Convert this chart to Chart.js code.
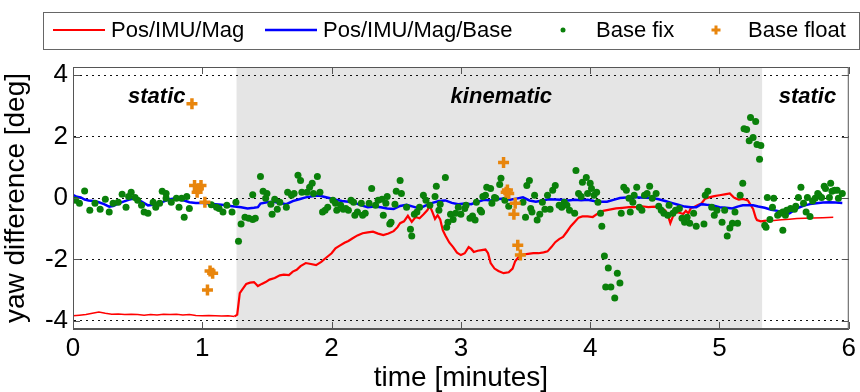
<!DOCTYPE html>
<html>
<head>
<meta charset="utf-8">
<script src="https://cdn.jsdelivr.net/npm/chart.js@4.4.1/dist/chart.umd.min.js"></script>
<style>
  html, body { margin: 0; padding: 0; background: #fff; }
  #wrap { width: 860px; height: 392px; }
</style>
</head>
<body>
<div id="wrap"><canvas id="yawChart" width="860" height="392"></canvas></div>
<script>
// axis ticks
const xTicks = [0, 1, 2, 3, 4, 5, 6];
const yTicks = [-4, -2, 0, 2, 4];

// phases of the test drive (minutes)
const phaseBounds = [0, 1.265, 5.33, 6];
const phaseNames = ['static', 'kinematic', 'static'];

// Pos/IMU/Mag (red)
const magTime = [0.00, 0.05, 0.10, 0.15, 0.20, 0.25, 0.30, 0.35, 0.40, 0.45, 0.50, 0.55, 0.60, 0.65, 0.70, 0.75,
  0.80, 0.85, 0.90, 0.95, 1.00, 1.05, 1.10, 1.15, 1.20, 1.25, 1.27, 1.29, 1.31, 1.34, 1.37, 1.40, 1.43, 1.46,
  1.49, 1.52, 1.56, 1.60, 1.63, 1.67, 1.70, 1.73, 1.76, 1.80, 1.84, 1.88, 1.92, 1.96, 2.00, 2.03, 2.06, 2.10,
  2.13, 2.16, 2.20, 2.24, 2.28, 2.32, 2.36, 2.40, 2.44, 2.48, 2.51, 2.53, 2.56, 2.59, 2.62, 2.65, 2.68, 2.71,
  2.74, 2.76, 2.78, 2.80, 2.82, 2.84, 2.86, 2.88, 2.91, 2.94, 2.97, 3.00, 3.03, 3.06, 3.08, 3.10, 3.13, 3.16,
  3.19, 3.21, 3.23, 3.26, 3.29, 3.33, 3.37, 3.40, 3.42, 3.45, 3.48, 3.52, 3.56, 3.60, 3.64, 3.67, 3.70, 3.73,
  3.76, 3.79, 3.82, 3.85, 3.88, 3.91, 3.94, 3.98, 4.02, 4.06, 4.10, 4.15, 4.20, 4.25, 4.30, 4.35, 4.40, 4.45,
  4.50, 4.55, 4.58, 4.60, 4.62, 4.64, 4.66, 4.69, 4.72, 4.74, 4.76, 4.78, 4.80, 4.83, 4.86, 4.89, 4.92, 4.96,
  5.00, 5.04, 5.08, 5.11, 5.13, 5.15, 5.18, 5.22, 5.26, 5.28, 5.29, 5.32, 5.36, 5.42, 5.48, 5.54, 5.60, 5.66,
  5.72, 5.80, 5.88, 5.95];
const magYaw = [-3.84, -3.82, -3.80, -3.76, -3.72, -3.76, -3.79, -3.78, -3.80, -3.79, -3.80, -3.82, -3.80, -3.81,
  -3.79, -3.80, -3.79, -3.81, -3.80, -3.83, -3.84, -3.83, -3.84, -3.85, -3.84, -3.86, -3.80, -3.10, -2.98, -2.80,
  -2.76, -2.74, -2.87, -2.80, -2.74, -2.66, -2.61, -2.52, -2.50, -2.51, -2.40, -2.34, -2.22, -2.12, -2.15, -2.19,
  -2.08, -1.94, -1.80, -1.64, -1.56, -1.46, -1.40, -1.32, -1.22, -1.15, -1.12, -1.10, -1.16, -1.21, -1.16, -1.08,
  -0.95, -0.82, -0.76, -0.58, -0.78, -0.62, -0.66, -0.54, -0.40, -0.26, -0.46, -0.68, -0.56, -0.70, -1.05,
  -1.22, -1.45, -1.60, -1.78, -1.86, -1.80, -1.60, -1.66, -1.76, -1.72, -1.70, -1.68, -1.80, -2.12, -2.30, -2.38,
  -2.45, -2.42, -2.30, -2.06, -1.90, -1.84, -1.82, -1.80, -1.80, -1.77, -1.74, -1.60, -1.44, -1.34, -1.27,
  -1.10, -0.92, -0.78, -0.64, -0.60, -0.60, -0.62, -0.50, -0.42, -0.38, -0.34, -0.32, -0.30, -0.30, -0.27,
  -0.30, -0.28, -0.34, -0.40, -0.55, -0.82, -0.60, -0.46, -0.48, -0.52, -0.42, -0.50, -0.32, -0.30, -0.24,
  -0.18, -0.02, 0.02, 0.06, 0.09, 0.12, 0.15, 0.02, -0.02, -0.05, -0.03, -0.08, -0.36, -0.64, -0.72, -0.76,
  -0.74, -0.73, -0.71, -0.69, -0.67, -0.66, -0.65, -0.64, -0.63];

// Pos/IMU/Mag/Base (blue)
const baseTime = [0.00, 0.03, 0.06, 0.09, 0.12, 0.16, 0.20, 0.24, 0.28, 0.31, 0.35, 0.39, 0.43, 0.47, 0.50, 0.54,
  0.58, 0.62, 0.66, 0.70, 0.74, 0.78, 0.82, 0.86, 0.90, 0.95, 1.00, 1.05, 1.10, 1.15, 1.20, 1.25, 1.30, 1.35,
  1.40, 1.43, 1.45, 1.50, 1.55, 1.60, 1.65, 1.70, 1.75, 1.80, 1.85, 1.90, 1.94, 1.98, 2.03, 2.08, 2.13, 2.18,
  2.23, 2.28, 2.33, 2.38, 2.43, 2.48, 2.53, 2.58, 2.63, 2.68, 2.73, 2.78, 2.83, 2.88, 2.93, 2.98, 3.03, 3.08,
  3.13, 3.18, 3.23, 3.28, 3.33, 3.38, 3.43, 3.48, 3.53, 3.58, 3.63, 3.68, 3.73, 3.78, 3.83, 3.88, 3.93, 3.98,
  4.03, 4.08, 4.13, 4.18, 4.23, 4.28, 4.33, 4.38, 4.43, 4.48, 4.53, 4.58, 4.63, 4.68, 4.73, 4.78, 4.82, 4.86,
  4.90, 4.95, 5.00, 5.05, 5.10, 5.14, 5.18, 5.22, 5.26, 5.30, 5.35, 5.40, 5.45, 5.50, 5.54, 5.58, 5.62, 5.66,
  5.70, 5.75, 5.80, 5.85, 5.90, 5.95];
const baseYaw = [0.10, 0.04, 0.02, -0.05, -0.08, -0.10, -0.14, -0.20, -0.28, -0.26, -0.18, -0.12, -0.06, -0.02,
  -0.04, -0.14, -0.24, -0.22, -0.16, -0.12, -0.05, -0.02, -0.06, -0.08, -0.14, -0.16, -0.16, -0.18, -0.20,
  -0.22, -0.25, -0.28, -0.30, -0.34, -0.32, -0.30, -0.18, -0.14, -0.12, -0.16, -0.20, -0.10, -0.04, 0.02,
  0.06, 0.08, 0.04, 0.00, -0.06, -0.10, -0.12, -0.16, -0.24, -0.30, -0.28, -0.30, -0.34, -0.36, -0.26, -0.22,
  -0.28, -0.34, -0.24, -0.16, -0.10, -0.08, -0.16, -0.20, -0.18, -0.20, -0.12, -0.06, -0.08, -0.04, -0.02,
  -0.06, -0.02, 0.02, -0.08, -0.12, -0.08, -0.04, -0.05, -0.06, -0.08, -0.06, -0.07, -0.06, -0.10, -0.12,
  -0.12, -0.06, 0.00, 0.02, 0.03, 0.02, 0.01, 0.00, -0.04, -0.10, -0.16, -0.22, -0.28, -0.30, -0.30, -0.20,
  -0.22, -0.24, -0.30, -0.32, -0.34, -0.28, -0.24, -0.24, -0.24, -0.28, -0.32, -0.38, -0.42, -0.48, -0.50,
  -0.40, -0.30, -0.24, -0.20, -0.17, -0.15, -0.14, -0.15, -0.16];

// Base fix (green dots)
const fixTime = [0.02, 0.09, 0.05, 0.13, 0.17, 0.21, 0.25, 0.28, 0.31, 0.35, 0.38, 0.41, 0.43, 0.45, 0.48, 0.50,
  0.53, 0.55, 0.58, 0.62, 0.64, 0.67, 0.69, 0.72, 0.72, 0.76, 0.80, 0.82, 0.84, 0.86, 0.88, 0.90, 1.07, 1.11,
  1.13, 1.16, 1.19, 1.23, 1.26,
  1.28, 1.30, 1.33, 1.36, 1.39, 1.41, 1.39, 1.45, 1.47, 1.50, 1.49, 1.53, 1.54, 1.56, 1.58, 1.60, 1.65, 1.66,
  1.69, 1.71, 1.74, 1.76, 1.77, 1.81, 1.83, 1.85, 1.86, 1.89, 1.91, 1.93, 1.95, 1.97, 2.01, 2.03, 2.04, 2.07,
  2.09, 2.11, 2.13, 2.15, 2.17, 2.18, 2.20, 2.23, 2.24, 2.26, 2.29, 2.31, 2.34, 2.36, 2.39, 2.40, 2.42, 2.43,
  2.45, 2.46, 2.49, 2.50, 2.53, 2.54, 2.58, 2.61, 2.62, 2.64, 2.66, 2.68, 2.71, 2.73, 2.76, 2.80, 2.81, 2.83,
  2.84, 2.88, 2.89, 2.90, 2.92, 2.94, 2.96, 2.98, 3.00, 3.03, 3.04, 3.07, 3.09, 3.11, 3.12, 3.15, 3.16, 3.17,
  3.19, 3.20, 3.23, 3.24, 3.26, 3.27, 3.30, 3.31, 3.34, 3.37, 3.48, 3.50, 3.51, 3.53, 3.54, 3.55, 3.57, 3.59,
  3.61, 3.63, 3.65, 3.67, 3.69, 3.71, 3.73, 3.76, 3.78, 3.80, 3.82, 3.84, 3.88, 3.89, 3.91, 3.93, 3.94, 3.97,
  3.98, 4.00, 4.01, 4.03, 4.05, 4.06, 4.08, 4.09, 4.11, 4.14, 4.12, 4.16, 4.21, 4.23, 4.19, 4.24, 4.26, 4.28,
  4.30, 4.31, 4.33, 4.34, 4.36, 4.38, 4.40, 4.42, 4.44, 4.46, 4.48, 4.51, 4.53, 4.55, 4.57, 4.60, 4.61, 4.64,
  4.66, 4.69, 4.71, 4.73, 4.75, 4.77, 4.80, 4.82, 4.88, 4.89, 4.91, 4.94, 4.96, 4.98, 5.02, 5.04, 5.06, 5.08,
  5.10, 5.12, 5.14, 5.16, 5.18, 5.19, 5.21, 5.24, 5.28, 5.26, 5.23, 5.29, 5.32, 5.31,
  5.35, 5.37, 5.42, 5.36, 5.39, 5.41, 5.45, 5.47, 5.49, 5.49, 5.51, 5.52, 5.55, 5.58, 5.59, 5.61, 5.63, 5.65,
  5.67, 5.68, 5.70, 5.72, 5.74, 5.76, 5.77, 5.79, 5.81, 5.82, 5.85, 5.86, 5.87, 5.89, 5.91, 5.92, 5.95];
const fixYaw = [-0.07, 0.23, -0.17, -0.40, -0.17, -0.37, -0.04, -0.46, -0.17, -0.14, 0.12, -0.30, 0.05, 0.19,
  0.02, -0.07, -0.24, -0.46, -0.50, -0.14, -0.30, -0.17, 0.22, 0.15, -0.01, -0.14, -0.01, -0.30, -0.01, -0.63,
  0.05, -0.34, -0.22, -0.30, -0.34, -0.46, -0.24, -0.46, -0.14,
  -1.41, -0.85, -0.63, -0.66, -0.70, -0.66, 0.11, 0.70, 0.22, 0.15, -0.01, -0.20, -0.53, -0.04, -0.37, -0.14,
  -0.30, 0.19, 0.09, 0.15, 0.74, 0.57, 0.19, 0.19, 0.35, 0.48, 0.15, 0.70, 0.19, -0.46, -0.40, -0.30, -0.07,
  -0.17, -0.40, -0.24, -0.37, -0.34, -0.40, -0.07, -0.14, -0.56, -0.46, -0.17, -0.56, -0.50, -0.17, 0.31,
  -0.24, -0.07, -0.04, -0.56, -0.17, 0.05, -0.85, -0.79, -0.20, 0.22, 0.57, 0.15, -0.30, -1.02, -1.24, -0.53,
  -0.46, -0.30, 0.09, -0.07, -0.24, 0.05, 0.38, -0.40, -0.20, 0.67, -0.95, -0.79, -0.53, -0.70, -0.50, -0.30,
  -0.53, -0.34, -0.24, -0.66, -0.59, -0.72, -0.14, -0.40, -0.46, 0.05, 0.09, 0.35, 0.31, -0.17, 0.02, -0.01,
  0.44, 0.64, -0.07, -0.27, -0.14, -0.63, 0.41, 0.57, -0.34, -0.46, 0.09, -0.72, -0.53, -0.14, -0.37, 0.09,
  -0.37, 0.25, 0.41, -0.24, -0.30, -0.14, -0.24, -0.40, -0.50, 0.90, 0.15, 0.05, 0.51, 0.67, 0.15, 0.48, 0.31,
  0.09, 0.19, -0.14, -0.50, -0.92, -1.89, -2.28, -2.90, -2.90, -2.45, -2.77, -3.26, -0.50, 0.35, 0.25, -0.01,
  -0.46, -0.14, 0.09, 0.35, -0.30, -0.40, 0.09, 0.15, 0.38, -0.01, 0.15, -0.27, -0.40, -0.50, -0.56, -0.24,
  -0.50, -0.40, -0.34, -0.66, -0.79, -0.63, -0.82, -0.50, -0.92, -0.85, 0.09, 0.22, -0.30, -0.56, -0.40,
  -0.79, -0.40, -1.24, -0.98, -0.82, -0.46, -0.82, 0.09, 0.48, 2.26, 2.23, 2.62, 2.49, 1.97, 1.87, 1.74, 1.71,
  1.26,
  -0.89, 0.02, -0.01, -0.95, -0.70, -0.30, -0.56, -0.50, -0.46, -1.05, -0.56, -0.40, -0.34, -0.37, -0.27, 0.02,
  0.35, -0.17, -0.46, 0.02, -0.60, -0.10, -0.01, 0.15, 0.09, 0.02, 0.38, 0.31, 0.02, 0.48, 0.22, 0.25, 0.25,
  -0.01, 0.15];

// Base float (orange crosses)
const floatTime = [0.92, 0.94, 0.96, 0.99, 0.97, 1.02, 1.06, 1.08, 1.04, 3.33, 3.35, 3.37, 3.36, 3.42, 3.41, 3.44, 3.46];
const floatYaw = [3.07, 0.41, 0.19, 0.41, 0.30, -0.14, -2.38, -2.45, -3.00, 1.16, 0.19, 0.15, 0.26, -0.17, -0.53, -1.54, -1.86];

const FONT = "'Liberation Sans', Arial, Helvetica, sans-serif";
const RED = '#ff0000';
const BLUE = '#0000ff';
const GREEN = '#0a800a';
const ORANGE = '#e8850c';

const pts = (xs, ys) => xs.map((x, i) => ({ x: x, y: ys[i] }));
const inStatic = (t) => t < phaseBounds[1] || t > phaseBounds[2];

// grey band for the kinematic part, drawn under the grid
const phasePlugin = {
  id: 'phases',
  beforeDraw(chart) {
    const { ctx, chartArea, scales } = chart;
    const x0 = scales.x.getPixelForValue(phaseBounds[1]);
    const x1 = scales.x.getPixelForValue(phaseBounds[2]);
    ctx.save();
    ctx.fillStyle = '#e5e5e5';
    ctx.fillRect(x0, chartArea.top, x1 - x0, chartArea.bottom - chartArea.top);
    ctx.restore();
  },
  afterDatasetsDraw(chart) {
    const { ctx, chartArea, scales } = chart;
    ctx.save();
    ctx.font = 'italic bold 22px ' + FONT;
    ctx.fillStyle = '#000';
    ctx.textAlign = 'center';
    ctx.textBaseline = 'alphabetic';
    phaseNames.forEach((name, i) => {
      const mid = (phaseBounds[i] + phaseBounds[i + 1]) / 2;
      ctx.fillText(name, scales.x.getPixelForValue(mid) + 2, chartArea.top + 36);
    });
    ctx.restore();
  }
};

// box frame + inward tick marks on all four sides + legend box
const framePlugin = {
  id: 'frame',
  afterDraw(chart) {
    const { ctx, chartArea: a, scales } = chart;
    const len = 7;
    ctx.save();
    ctx.strokeStyle = '#555';
    ctx.lineWidth = 1;
    ctx.strokeRect(a.left + 0.5, a.top + 0.5, a.right - a.left - 1, a.bottom - a.top - 1);
    ctx.beginPath();
    xTicks.forEach((v) => {
      const px = Math.round(scales.x.getPixelForValue(v)) + 0.5;
      ctx.moveTo(px, a.bottom); ctx.lineTo(px, a.bottom - len);
      ctx.moveTo(px, a.top); ctx.lineTo(px, a.top + len);
    });
    yTicks.forEach((v) => {
      const py = Math.round(scales.y.getPixelForValue(v)) + 0.5;
      ctx.moveTo(a.left, py); ctx.lineTo(a.left + len, py);
      ctx.moveTo(a.right, py); ctx.lineTo(a.right - len, py);
    });
    ctx.stroke();

    // legend
    const ds = chart.data.datasets;
    const ly = 30;
    ctx.strokeStyle = '#666';
    ctx.strokeRect(43.5, 12.5, 816, 37);
    ctx.font = '22px ' + FONT;
    ctx.fillStyle = '#000';
    ctx.textBaseline = 'middle';
    ctx.textAlign = 'left';

    ctx.lineWidth = 2;
    ctx.strokeStyle = RED;
    ctx.beginPath(); ctx.moveTo(53, ly); ctx.lineTo(105, ly); ctx.stroke();
    ctx.fillText(ds[0].label, 111, ly + 1);

    ctx.lineWidth = 2.5;
    ctx.strokeStyle = BLUE;
    ctx.beginPath(); ctx.moveTo(265, ly); ctx.lineTo(317, ly); ctx.stroke();
    ctx.fillText(ds[1].label, 323, ly + 1);

    ctx.fillStyle = GREEN;
    ctx.beginPath(); ctx.arc(563, ly, 2.5, 0, Math.PI * 2); ctx.fill();
    ctx.fillStyle = '#000';
    ctx.fillText(ds[2].label, 596, ly + 1);

    ctx.strokeStyle = ORANGE;
    ctx.lineWidth = 3;
    ctx.beginPath();
    ctx.moveTo(711.5, ly); ctx.lineTo(720.5, ly);
    ctx.moveTo(716, ly - 4.5); ctx.lineTo(716, ly + 4.5);
    ctx.stroke();
    ctx.fillText(ds[3].label, 748, ly + 1);
    ctx.restore();
  }
};

const ctx = document.getElementById('yawChart').getContext('2d');
new Chart(ctx, {
  type: 'scatter',
  data: {
    datasets: [
      {
        label: 'Pos/IMU/Mag',
        data: pts(magTime, magYaw),
        showLine: true,
        borderColor: RED,
        borderWidth: 2.2,
        pointRadius: 0,
        tension: 0,
        order: 4,
        segment: {
          // thinner trace while standing still, as in the original
          borderWidth: (c) => (inStatic(c.p0.parsed.x) && inStatic(c.p1.parsed.x) ? 1.5 : 2.2)
        }
      },
      {
        label: 'Pos/IMU/Mag/Base',
        data: pts(baseTime, baseYaw),
        showLine: true,
        borderColor: BLUE,
        borderWidth: 2.5,
        pointRadius: 0,
        tension: 0,
        order: 3
      },
      {
        label: 'Base fix',
        data: pts(fixTime, fixYaw),
        pointStyle: 'circle',
        pointRadius: 3.5,
        backgroundColor: GREEN,
        borderWidth: 0,
        order: 2
      },
      {
        label: 'Base float',
        data: pts(floatTime, floatYaw),
        pointStyle: 'cross',
        pointRadius: 5.5,
        borderColor: ORANGE,
        borderWidth: 3.5,
        order: 1
      }
    ]
  },
  options: {
    responsive: false,
    animation: false,
    devicePixelRatio: 1,
    layout: { padding: { top: 67, right: 7, left: 0, bottom: 0 } },
    plugins: {
      legend: { display: false },
      tooltip: { enabled: false }
    },
    scales: {
      x: {
        type: 'linear',
        min: 0,
        max: 6,
        afterBuildTicks: (scale) => { scale.ticks = xTicks.map((v) => ({ value: v })); },
        afterFit: (scale) => { scale.height = 63; },
        ticks: { font: { family: FONT, size: 26 }, color: '#000', padding: 4, maxRotation: 0 },
        grid: { drawOnChartArea: false, drawTicks: false },
        border: { display: true, color: '#555', width: 1 },
        title: {
          display: true,
          text: 'time [minutes]',
          color: '#000',
          font: { family: FONT, size: 28, lineHeight: 1 },
          padding: { top: 0, bottom: 0 }
        }
      },
      y: {
        type: 'linear',
        min: -4.27,
        max: 4.27,
        afterBuildTicks: (scale) => { scale.ticks = yTicks.map((v) => ({ value: v })); },
        afterFit: (scale) => { scale.width = 73; },
        ticks: { font: { family: FONT, size: 26 }, color: '#000', padding: 5 },
        grid: { color: '#111', lineWidth: 1, drawTicks: false },
        border: { display: true, color: '#555', width: 1, dash: [2, 4] },
        title: {
          display: true,
          text: 'yaw difference [deg]',
          color: '#000',
          font: { family: FONT, size: 28, lineHeight: 1 },
          padding: { top: 2, bottom: 0 }
        }
      }
    }
  },
  plugins: [phasePlugin, framePlugin]
});
</script>
</body>
</html>
